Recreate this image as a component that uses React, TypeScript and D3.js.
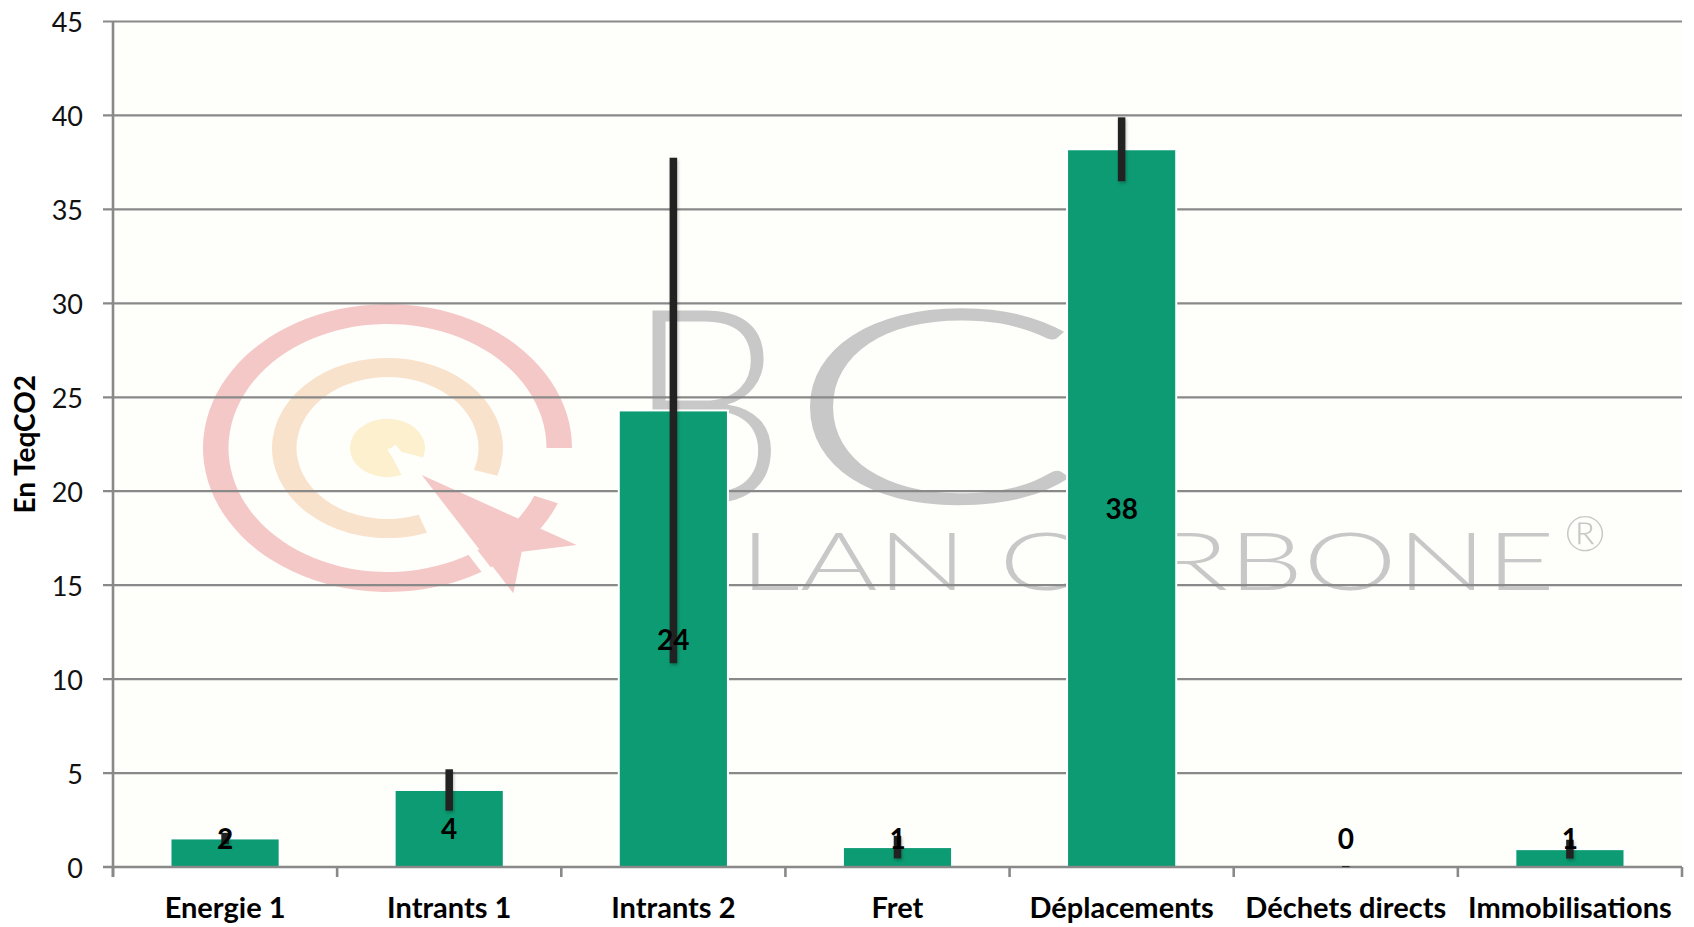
import React from "react";
import * as d3 from "d3";

const CATEGORIES = [
  "Energie 1",
  "Intrants 1",
  "Intrants 2",
  "Fret",
  "Déplacements",
  "Déchets directs",
  "Immobilisations",
];
const VALUES = [1.52, 4.1, 24.3, 1.06, 38.2, 0, 0.95];
const ERRORS = [0.3, 1.1, 13.45, 0.6, 1.7, 0.05, 0.5];
const Y_TICKS = [0, 5, 10, 15, 20, 25, 30, 35, 40, 45];
const Y_TITLE = "En TeqCO2";

const W = 1694;
const H = 927;
const margin = { top: 21.5, right: 12, bottom: 60, left: 113 };
const FONT = "Lato, 'Open Sans', sans-serif";
const GRID = "#898989";
const BAR = "#0c9b72";
const PLOT_BG = "#fefefa";
const WM_GREY = "#c8c8c8";

// watermark logo (decoration only)
const Watermark = () => {
  const arc = d3.arc<any>();
  const deg = (a: number) => (a * Math.PI) / 180;
  const outer = arc({ innerRadius: 159, outerRadius: 184.5, startAngle: deg(112.6), endAngle: deg(450) });
  const mid = arc({ innerRadius: 91, outerRadius: 115.5, startAngle: deg(160), endAngle: deg(468) });
  const core = arc({ innerRadius: 0, outerRadius: 37.5, startAngle: deg(158), endAngle: deg(469) });
  return (
    <g>
      <g transform="translate(387.5,448) scale(1,0.78)">
        <path d={outer || ""} fill="#f5c8c8" />
        <path d={mid || ""} fill="#f9e2cc" />
        <path d={core || ""} fill="#fcf0ce" />
      </g>
      <line x1={391.7} y1={447.6} x2={513.9} y2={605.5} stroke={PLOT_BG} strokeWidth={10} />
      <polygon points="421.7,475 576.7,545 521.7,551.7 513.3,593.3" fill="#f5c8c8" />
      <text
        x={626}
        y={503}
        fontFamily={FONT}
        fontWeight={300}
        fontSize={272}
        fill={WM_GREY}
        textLength={160}
        lengthAdjust="spacingAndGlyphs"
      >
        B
      </text>
      <text
        x={784}
        y={503}
        fontFamily={FONT}
        fontWeight={300}
        fontSize={272}
        fill={WM_GREY}
        textLength={300}
        lengthAdjust="spacingAndGlyphs"
      >
        C
      </text>
      <text
        x={640}
        y={590}
        fontFamily={FONT}
        fontWeight={300}
        fontSize={80}
        fill={WM_GREY}
        textLength={70}
        lengthAdjust="spacingAndGlyphs"
      >
        BI
      </text>
      <text
        x={740}
        y={590}
        fontFamily={FONT}
        fontWeight={300}
        fontSize={80}
        fill={WM_GREY}
        textLength={815}
        lengthAdjust="spacingAndGlyphs"
      >
        LAN CARBONE
      </text>
      <text x={1564} y={551} fontFamily={FONT} fontWeight={300} fontSize={50} fill={WM_GREY}>
        ®
      </text>
    </g>
  );
};

export default function App() {
  const x = d3
    .scaleBand<string>()
    .domain(CATEGORIES)
    .range([margin.left, W - margin.right])
    .paddingInner(0.513)
    .paddingOuter(0.2565);

  const y = d3
    .scaleLinear()
    .domain([0, 45])
    .range([H - margin.bottom, margin.top]);

  const x0 = margin.left;
  const x1 = W - margin.right;
  const yBase = y(0);
  const step = x.step();
  const fmt = d3.format(".0f");
  const ebW = 7.5;

  return (
    <div style={{ position: "absolute", left: 0, top: 0 }}>
      <svg width={W} height={H} style={{ display: "block", background: "#ffffff" }}>
        <defs>
          <filter id="shadow" x="-100%" y="-10%" width="300%" height="130%">
            <feDropShadow dx="1" dy="2" stdDeviation="1.5" floodColor="#000" floodOpacity="0.25" />
          </filter>
        </defs>

        <rect x={x0} y={y(45)} width={x1 - x0} height={yBase - y(45)} fill={PLOT_BG} />
        <Watermark />

        {/* gridlines + y ticks */}
        {Y_TICKS.map((t) => (
          <g key={t}>
            <line x1={x0 - 10} x2={x1} y1={y(t)} y2={y(t)} stroke={GRID} strokeWidth={2.2} />
            <text
              x={83}
              y={y(t)}
              textAnchor="end"
              dominantBaseline="central"
              fontFamily={FONT}
              fontSize={27}
              fill="#111"
            >
              {t}
            </text>
          </g>
        ))}

        {/* bars */}
        {CATEGORIES.map((c, i) => (
          <rect
            key={c}
            x={x(c)}
            y={y(VALUES[i])}
            width={x.bandwidth()}
            height={yBase - y(VALUES[i])}
            fill={BAR}
            stroke="#ffffff"
            strokeWidth={2}
          />
        ))}

        {/* axes */}
        <line x1={x0} x2={x0} y1={y(45)} y2={yBase + 10} stroke={GRID} strokeWidth={2.6} />
        <line x1={x0 - 10} x2={x1} y1={yBase} y2={yBase} stroke={GRID} strokeWidth={2.6} />
        {d3.range(CATEGORIES.length + 1).map((k) => (
          <line
            key={k}
            x1={x0 + k * step}
            x2={x0 + k * step}
            y1={yBase}
            y2={yBase + 10}
            stroke={GRID}
            strokeWidth={2.6}
          />
        ))}

        {/* error bars */}
        {CATEGORIES.map((c, i) => {
          const cx = (x(c) || 0) + x.bandwidth() / 2;
          const top = y(VALUES[i] + ERRORS[i]);
          const bot = y(Math.max(VALUES[i] - ERRORS[i], 0));
          return (
            <rect
              key={c}
              x={cx - ebW / 2}
              y={top}
              width={ebW}
              height={Math.max(bot - top, 1)}
              fill="#222222"
              filter="url(#shadow)"
            />
          );
        })}

        {/* data labels */}
        {CATEGORIES.map((c, i) => {
          const cx = (x(c) || 0) + x.bandwidth() / 2;
          const mid = (y(VALUES[i]) + yBase) / 2;
          return (
            <text
              key={c}
              x={cx}
              y={Math.min(mid, yBase - 29)}
              textAnchor="middle"
              dominantBaseline="central"
              fontFamily={FONT}
              fontWeight={700}
              fontSize={28}
              fill="#000"
            >
              {fmt(VALUES[i])}
            </text>
          );
        })}

        {/* category labels */}
        {CATEGORIES.map((c) => (
          <text
            key={c}
            x={(x(c) || 0) + x.bandwidth() / 2}
            y={918}
            textAnchor="middle"
            fontFamily={FONT}
            fontWeight={700}
            fontSize={29}
            fill="#000"
          >
            {c}
          </text>
        ))}

        <text
          transform={`translate(24,${(y(45) + yBase) / 2}) rotate(-90)`}
          textAnchor="middle"
          dominantBaseline="central"
          fontFamily={FONT}
          fontWeight={700}
          fontSize={28}
          fill="#000"
        >
          {Y_TITLE}
        </text>
      </svg>
    </div>
  );
}
